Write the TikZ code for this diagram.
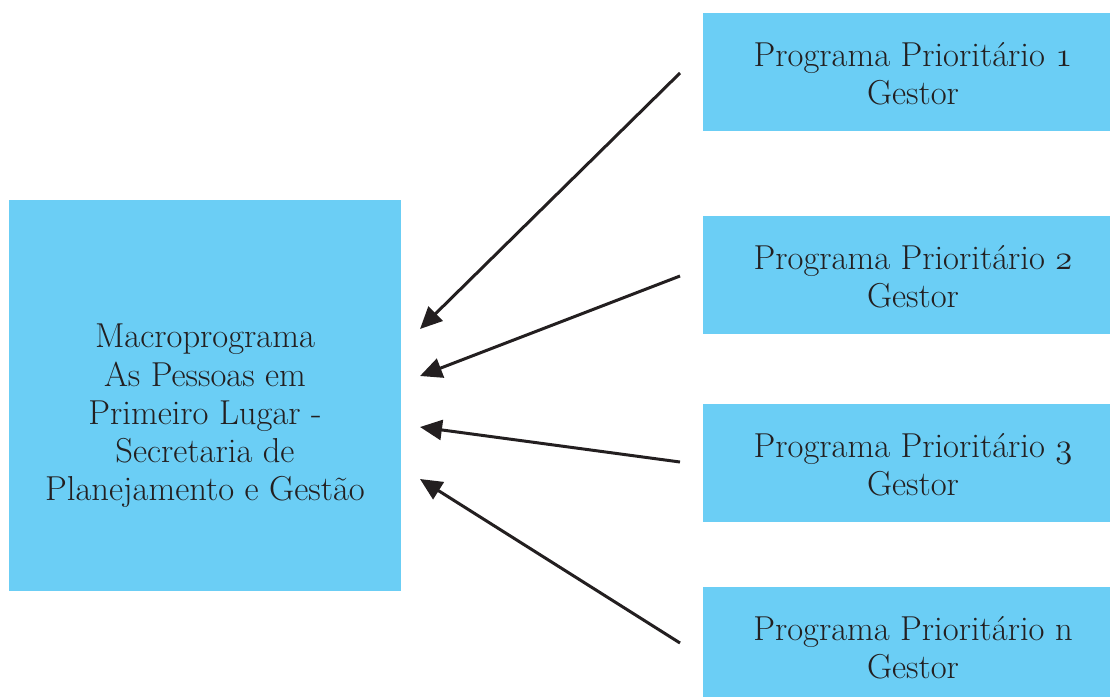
\RequirePackage{fix-cm}
\documentclass[tikz,border=0pt]{standalone}
\usepackage{fontspec}
\usetikzlibrary{arrows.meta}
\definecolor{boxblue}{HTML}{6BCEF5}
\definecolor{ink}{HTML}{231F20}
\newcommand{\osn}[1]{{\usefont{OML}{cmm}{m}{it}#1}}
\tikzset{
  bluebox/.style={fill=boxblue, draw=none, inner sep=0pt, anchor=north west},
  boxtext/.style={text=ink, align=center, inner sep=0pt,
    font=\fontsize{34.6}{38.3}\selectfont},
  arr/.style={draw=ink, line width=3pt,
    -{Triangle[length=22pt,width=20pt]}}
}
\begin{document}
\begin{tikzpicture}[x=1pt,y=-1pt]
\useasboundingbox (0,0) rectangle (1110,697);
% boxes
\node[bluebox, minimum width=392pt, minimum height=391pt] (macro) at (9,200) {};
\node[bluebox, minimum width=407pt, minimum height=118pt] (p1) at (703,13) {};
\node[bluebox, minimum width=407pt, minimum height=118pt] (p2) at (703,216) {};
\node[bluebox, minimum width=407pt, minimum height=118pt] (p3) at (703,404) {};
\node[bluebox, minimum width=407pt, minimum height=110pt] (pn) at (703,587) {};
% texts
\node[boxtext] (macrot) at (205,416) {Macroprograma\\As Pessoas em\\Primeiro Lugar -\\Secretaria de\\Planejamento e Gestão};
\node[boxtext] (p1t) at (913,74) {Programa Prioritário \osn{1}\\Gestor};
\node[boxtext] (p2t) at (913,277) {Programa Prioritário \osn{2}\\Gestor};
\node[boxtext] (p3t) at (913,465) {Programa Prioritário \osn{3}\\Gestor};
\node[boxtext] (pnt) at (913,648) {Programa Prioritário n\\Gestor};
% connector end points
\coordinate (s1) at (680,73);
\coordinate (s2) at (680,276);
\coordinate (s3) at (680,462);
\coordinate (s4) at (680,643);
\coordinate (t1) at (420,329);
\coordinate (t2) at (420,376);
\coordinate (t3) at (420,427);
\coordinate (t4) at (420,479);
\draw[arr] (s1) -- (t1);
\draw[arr] (s2) -- (t2);
\draw[arr] (s3) -- (t3);
\draw[arr] (s4) -- (t4);
\end{tikzpicture}
\end{document}
